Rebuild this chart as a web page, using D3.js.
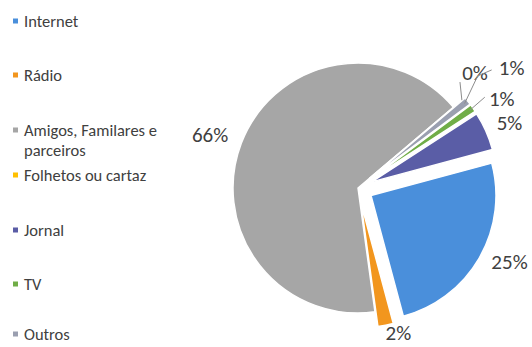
<!DOCTYPE html>
<html>
<head>
<meta charset="utf-8">
<script src="https://cdn.jsdelivr.net/npm/d3@7"></script>
<style>
  html, body { margin: 0; padding: 0; background: #ffffff; }
  svg { display: block; }
  text { font-family: Carlito, Calibri, Lato, "Open Sans", sans-serif; fill: #404040; }
</style>
</head>
<body>
<svg id="chart" width="532" height="347"></svg>
<script>
// Survey answers: where people heard about it (shares in %)
const categories = ["Internet", "Rádio", "Amigos, Familares e parceiros", "Folhetos ou cartaz", "Jornal", "TV", "Outros"];
const shares = [25, 2, 66, 0, 5, 1, 1];
const sliceColors = ["#4a8fdb", "#f2961e", "#a6a6a6", "#ffc000", "#5a5da6", "#70ad47", "#9a9fb0"];
// order in which slices run clockwise round the pie
const sliceOrder = ["Internet", "Rádio", "Amigos, Familares e parceiros", "Folhetos ou cartaz", "Outros", "TV", "Jornal"];
// slices pulled out of the pie
const pulledOut = ["Internet", "Rádio", "Folhetos ou cartaz", "Outros", "TV", "Jornal"];

const svg = d3.select("#chart");
const cx = 358, cy = 188, R = 125, explode = 15;
const deg = Math.PI / 180;

const color = d3.scaleOrdinal().domain(categories).range(sliceColors);
const rows = sliceOrder.map(c => ({ cat: c, value: shares[categories.indexOf(c)] }));

const pie = d3.pie().sort(null).value(d => d.value)
  .startAngle(75 * deg).endAngle(435 * deg);
const arc = d3.arc().innerRadius(0).outerRadius(R);
const arcs = pie(rows);

const g = svg.append("g").attr("transform", `translate(${cx},${cy})`);

function offsetOf(a) {
  if (!pulledOut.includes(a.data.cat)) return [0, 0];
  const m = (a.startAngle + a.endAngle) / 2;
  return [Math.sin(m) * explode, -Math.cos(m) * explode];
}

g.selectAll("path.slice").data(arcs).join("path")
  .attr("class", "slice")
  .attr("d", arc)
  .attr("transform", d => `translate(${offsetOf(d)})`)
  .attr("fill", d => color(d.data.cat))
  .attr("stroke", "#ffffff")
  .attr("stroke-width", 1.5)
  .attr("stroke-linejoin", "round");

// Data labels: big slices sit just outside their rim, the tiny ones get leader lines
const smallLabel = {
  "Folhetos ou cartaz": { angle: 45.5, dist: 164, leaderFrom: [-15, 9] },
  "Outros": { angle: 52, dist: 195, leaderFrom: [-20, 2], elbow: [-34, 8] },
  "TV": { angle: 58.3, dist: 169, leaderFrom: [-17, -2] }
};
const labelNudge = {
  "Internet": [0, -3],
  "Rádio": [10, -6],
  "Amigos, Familares e parceiros": [0, -3],
  "Jornal": [-2, -2]
};
const pctFont = 21;

arcs.forEach(a => {
  const m = (a.startAngle + a.endAngle) / 2;
  const [ox, oy] = offsetOf(a);
  const txt = d3.format(".0%")(a.data.value / 100);
  const small = smallLabel[a.data.cat];
  if (small) {
    const lx = Math.sin(small.angle * deg) * small.dist;
    const ly = -Math.cos(small.angle * deg) * small.dist;
    const tipX = Math.sin(m) * (R - 4) + ox, tipY = -Math.cos(m) * (R - 4) + oy;
    const pts = [[lx + small.leaderFrom[0], ly + small.leaderFrom[1]]];
    if (small.elbow) pts.push([lx + small.elbow[0], ly + small.elbow[1]]);
    pts.push([tipX, tipY]);
    g.append("path")
      .attr("d", d3.line()(pts))
      .attr("fill", "none").attr("stroke", "#8c8c8c").attr("stroke-width", 1);
    g.append("text")
      .attr("x", lx).attr("y", ly)
      .attr("text-anchor", "middle").attr("dominant-baseline", "central")
      .attr("font-size", pctFont).text(txt);
  } else {
    const d = R + (ox || oy ? explode : 0) + 14;
    const nudge = labelNudge[a.data.cat] || [0, 0];
    const px = Math.sin(m) * d + nudge[0], py = -Math.cos(m) * d + nudge[1];
    const s = Math.sin(m);
    const anchor = Math.abs(s) < 0.3 ? "middle" : (s > 0 ? "start" : "end");
    g.append("text")
      .attr("x", px).attr("y", py)
      .attr("text-anchor", anchor).attr("dominant-baseline", "central")
      .attr("font-size", pctFont).text(txt);
  }
});

// Legend down the left side
const legendY = [21, 75, 130, 175, 230, 284, 334];
const legendLines = categories.map(c => c === "Amigos, Familares e parceiros" ? ["Amigos, Familares e", "parceiros"] : [c]);
const legend = svg.append("g");
categories.forEach((c, i) => {
  const y = legendY[i];
  legend.append("rect")
    .attr("x", 13).attr("y", y - 2.5).attr("width", 5).attr("height", 5)
    .attr("fill", color(c));
  const t = legend.append("text")
    .attr("x", 24).attr("y", y)
    .attr("dominant-baseline", "central")
    .attr("font-size", 16.5);
  legendLines[i].forEach((ln, k) => {
    t.append("tspan").attr("x", 24).attr("dy", k === 0 ? 0 : 20).text(ln);
  });
});
</script>
</body>
</html>
